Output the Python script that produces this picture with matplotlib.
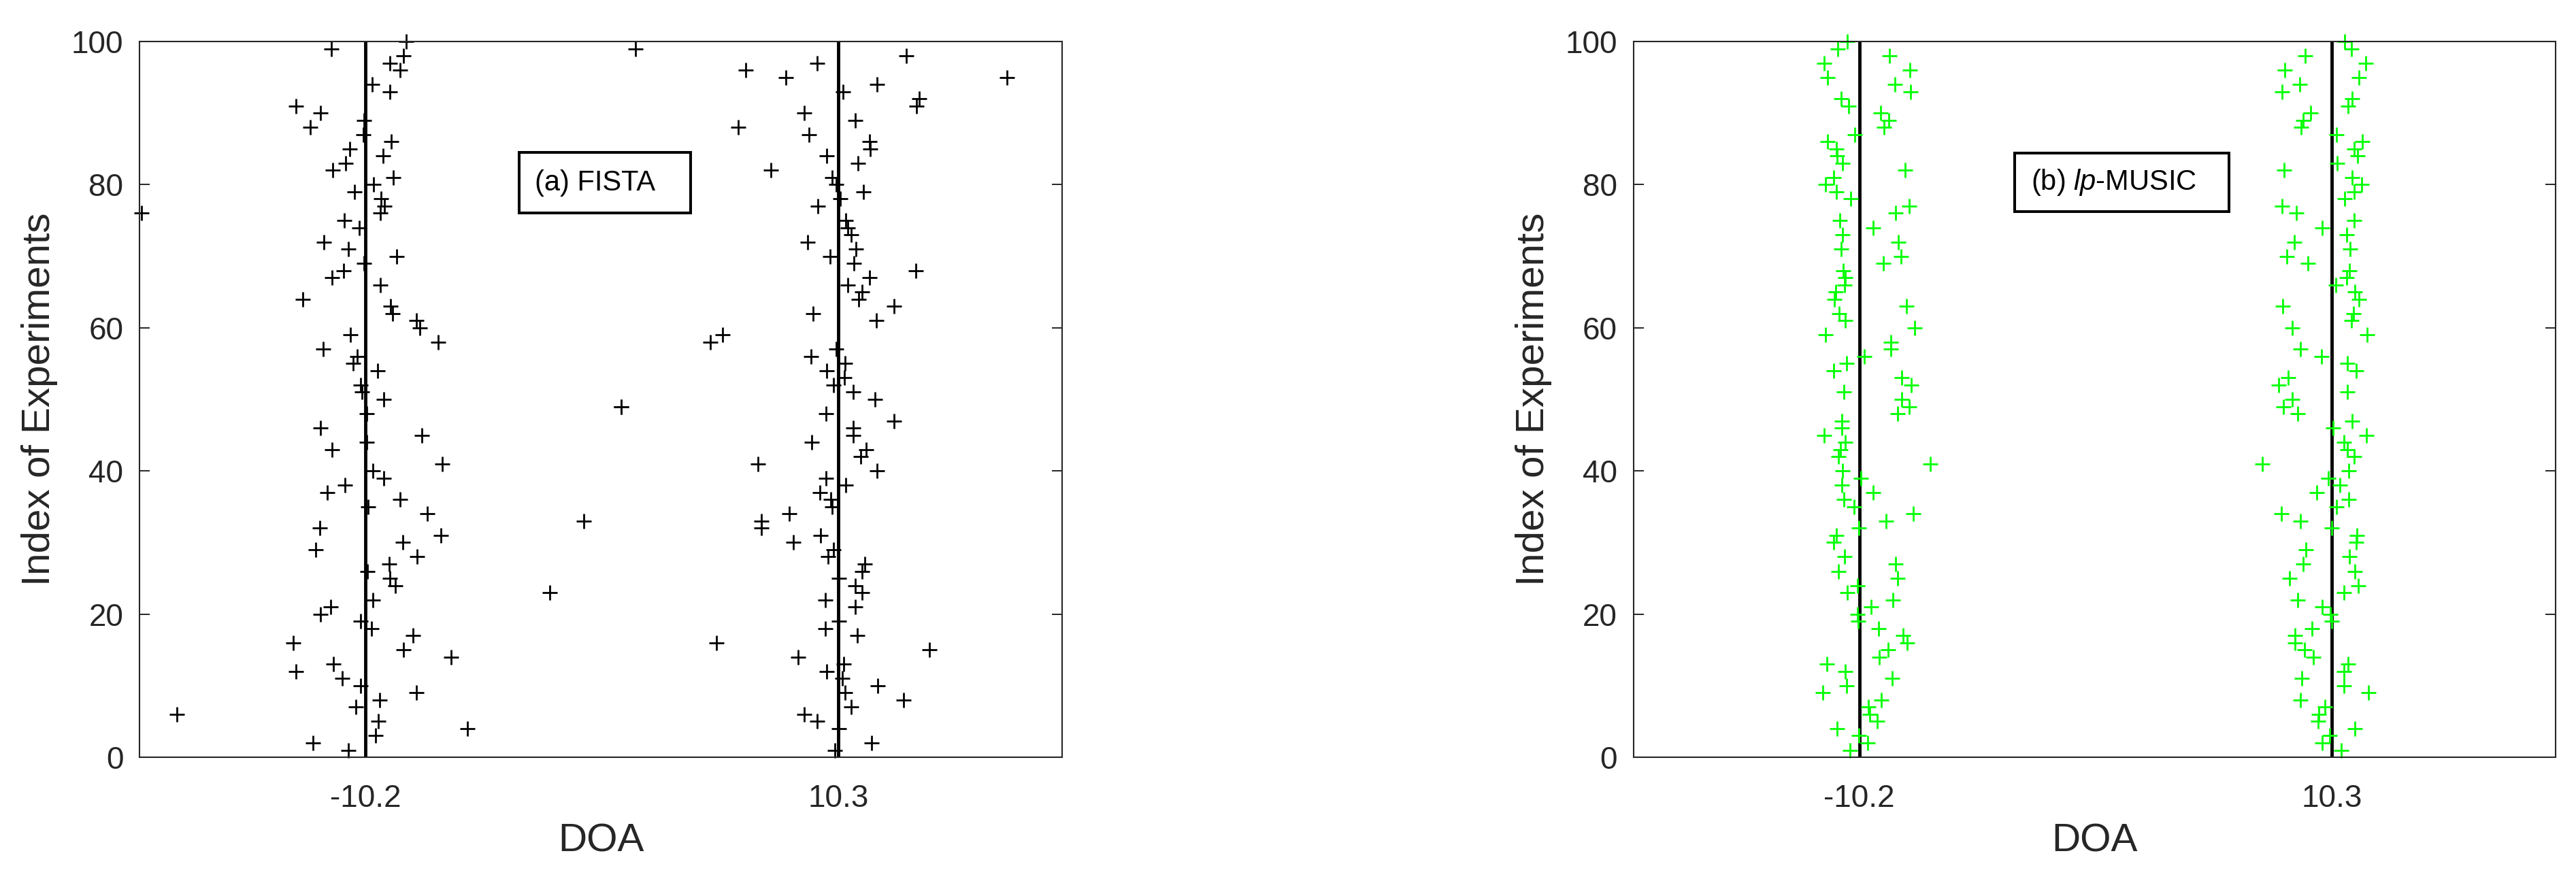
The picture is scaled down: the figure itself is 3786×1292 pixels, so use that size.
import numpy as np
import matplotlib
matplotlib.use("Agg")
import matplotlib.pyplot as plt
from matplotlib.patches import Rectangle

plt.rcParams['font.family'] = ['Liberation Sans', 'DejaVu Sans']
plt.rcParams['mathtext.fontset'] = 'custom'
plt.rcParams['mathtext.it'] = 'Liberation Sans:italic'
plt.rcParams['mathtext.rm'] = 'Liberation Sans'

nan = np.nan

# true source directions
true_doa = [-10.2, 10.3]
doa_ticks = [-10.2, 10.3]
doa_tick_labels = ['-10.2', '10.3']
idx_ticks = [0, 20, 40, 60, 80, 100]

experiments = np.arange(1, 101)

# FISTA estimates, experiment 1..100 (nan = not visible)
fista_est1 = [
    -10.95, -12.47, -9.77, -5.79, -9.63, -18.36, -10.63, -9.59, -7.99, -10.42,
    -11.22, -13.22, -11.58, -6.48, -8.56, -13.34, -8.13, -9.95, -10.40, -12.14,
    -11.71, -9.88, -2.21, -8.90, -9.15, -10.13, -9.17, -7.96, -12.36, -8.57,
    -6.94, -12.18, -0.73, -7.53, -10.10, -8.69, -11.85, -11.08, -9.40, -9.88,
    -6.86, nan, -11.65, -10.15, -7.76, -12.16, nan, -10.15, 0.90, -9.42,
    -10.35, -10.40, nan, -9.67, -10.73, -10.57, -12.04, -7.06, -10.85, -7.84,
    -7.98, -9.03, -9.12, -12.91, nan, -9.55, -11.65, -11.15, -10.27, -8.85,
    -10.95, -12.01, nan, -10.47, -11.13, -9.55, -9.39, -9.52, -10.68, -9.85,
    -9.00, -11.61, -11.07, -9.45, -10.87, -9.09, -10.29, -12.58, -10.27, -12.16,
    -13.22, nan, -9.15, -9.90, 8.03, -8.70, -9.15, -8.55, -11.68, -8.44,
]
fista_est2 = [
    10.16, 11.73, nan, 10.32, 9.38, 8.81, 10.85, 13.14, 10.58, 12.02,
    10.46, 9.80, 10.54, 8.57, 14.25, 5.02, 11.13, 9.74, 10.32, nan,
    11.04, 9.74, 11.32, 11.03, 10.33, 11.33, 11.46, 9.86, 10.10, 8.36,
    9.53, 6.95, 6.97, 8.17, 10.02, 9.98, 9.51, 10.61, 9.76, 11.97,
    6.81, 11.26, 11.50, 9.14, 10.93, 10.95, 12.72, 9.76, 0.90, 11.90,
    10.95, 10.08, 10.56, 9.79, 10.58, 9.13, 10.20, 4.75, 5.27, nan,
    11.95, 9.21, 12.72, 11.17, 11.33, 10.70, 11.65, 13.66, 10.98, 9.94,
    11.07, 8.96, 10.87, 10.72, 10.63, -19.90, 9.40, 10.37, 11.40, 10.20,
    10.04, 7.38, 11.16, 9.79, 11.67, 11.65, 9.03, 5.95, 11.04, 8.83,
    13.68, 13.80, 10.49, 11.97, 17.60, 6.29, 9.37, 13.24, 1.50, nan,
]

# lp-MUSIC estimates, experiment 1..100
music_est1 = [
    -10.61, -9.82, -10.21, -11.15, -9.43, -9.75, -9.80, -9.23, -11.77, -10.76,
    -8.78, -10.81, -11.59, -9.32, -8.95, -8.11, -8.31, -9.36, -10.25, -10.28,
    -9.69, -8.73, -10.72, -10.28, -8.54, -11.10, -8.61, -10.83, nan, -11.30,
    -11.19, -10.21, -9.03, -7.84, -10.43, -10.88, -9.60, -10.96, -10.12, -10.92,
    -7.12, -11.09, -11.01, -10.80, -11.72, -10.95, -10.95, -8.53, -8.03, -8.36,
    -10.86, -7.94, -8.36, -11.30, -10.74, -9.98, -8.82, -8.83, -11.67, -7.80,
    -10.80, -11.07, -8.16, -11.28, -11.22, -10.83, -10.81, -10.89, -9.16, -8.38,
    -10.98, -8.51, -10.93, -9.60, -11.05, -8.61, -8.04, -10.58, -11.18, -11.66,
    -11.32, -8.21, -10.93, -11.16, -11.18, -11.56, -10.40, -9.11, -8.92, -9.27,
    -10.66, -10.99, -7.97, -8.66, -11.58, -8.00, -11.71, -8.88, -11.12, -10.73,
]
music_est2 = [
    10.71, 9.89, 10.21, 11.29, 9.71, 9.73, 10.01, 8.94, 11.88, 10.82,
    8.99, 10.84, 11.02, 9.51, 9.13, 8.70, 8.70, 9.43, 10.30, 10.23,
    9.89, 8.83, 10.82, 11.45, 8.48, 11.30, 9.06, 11.06, 9.18, 11.37,
    11.38, 10.30, 8.93, 8.11, 10.52, 11.04, 9.64, 10.66, 10.16, 11.03,
    7.28, 11.28, 10.99, 10.82, 11.80, 10.36, 11.19, 8.81, 8.19, 8.59,
    10.98, 8.01, 8.42, 11.36, 10.97, 9.85, 8.94, nan, 11.83, 8.59,
    11.16, 11.24, 8.18, 11.47, 11.30, 10.48, 10.95, 11.06, 9.28, 8.34,
    11.10, 8.69, 10.95, 9.89, 11.27, 8.78, 8.15, 10.86, 11.27, 11.59,
    11.20, 8.24, 10.53, 11.42, 11.27, 11.62, 10.50, 8.97, 9.05, 9.39,
    11.02, 11.18, 8.15, 8.91, 11.47, 8.26, 11.78, 9.15, 11.16, 10.87,
]

panels = [
    ("(a) FISTA", fista_est1, fista_est2, 'black', [-3.55, 76.0, 7.45, 8.5]),
    ("(b) $\\mathit{lp}$-MUSIC", music_est1, music_est2, '#00ff00', [-3.45, 76.2, 9.3, 8.2]),
]

fig = plt.figure(figsize=(37.87, 12.92), dpi=100)
axes_pos = [[0.0541, 0.1385, 0.3581, 0.8143],
            [0.6339, 0.1385, 0.3578, 0.8143]]
ax_color = '#262626'

for pos, (label, est1, est2, col, box) in zip(axes_pos, panels):
    ax = fig.add_axes(pos)
    for d in true_doa:
        ax.axvline(d, color='black', lw=3.5, zorder=2)
    for est in (est1, est2):
        ax.plot(est, experiments, '+', color=col, ms=15.5, mew=2.0,
                linestyle='none', zorder=3, clip_on=False)

    ax.set_xlim(-20, 20)
    ax.set_ylim(0, 100)
    ax.set_xticks(doa_ticks)
    ax.set_xticklabels(doa_tick_labels)
    ax.set_yticks(idx_ticks)
    ax.tick_params(axis='both', direction='in', length=11, width=1.4,
                   colors=ax_color, labelsize=33, top=True, right=True)
    ax.tick_params(axis='x', pad=28)
    ax.tick_params(axis='y', pad=17)
    for s in ax.spines.values():
        s.set_color(ax_color)
        s.set_linewidth(1.5)
        s.set_zorder(4)
    ax.set_xlabel("DOA", fontsize=42, color=ax_color, labelpad=10)
    ax.set_ylabel("Index of Experiments", fontsize=42, color=ax_color, labelpad=14)

    bx, by, bw, bh = box
    ax.add_patch(Rectangle((bx, by), bw, bh, facecolor='white',
                           edgecolor='black', lw=2.9, zorder=5))
    ax.text(bx + 0.7, by + bh / 2, label, fontsize=30, va='center',
            ha='left', color='black', zorder=6)

fig.savefig("out.png", dpi=100)
